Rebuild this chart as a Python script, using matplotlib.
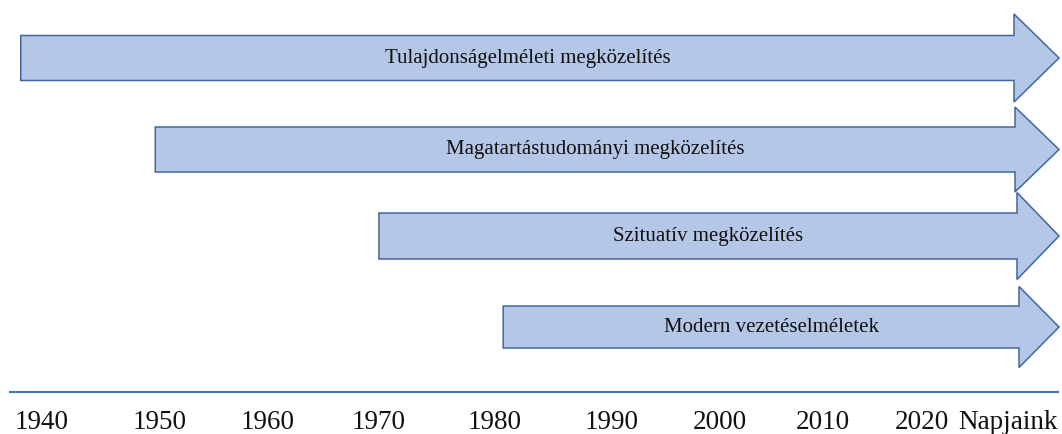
import numpy as np
import matplotlib
matplotlib.use('Agg')
import matplotlib.pyplot as plt
from matplotlib.patches import Polygon

# data
labels = ['Tulajdonságelméleti megközelítés',
          'Magatartástudományi megközelítés',
          'Szituatív megközelítés',
          'Modern vezetéselméletek']
start_years = [1938.2, 1949.6, 1970.0, 1980.7]
tick_years = [1940, 1950, 1960, 1970, 1980, 1990, 2000, 2010, 2020, 2030]
tick_labels = ['1940', '1950', '1960', '1970', '1980', '1990', '2000', '2010', '2020', 'Napjaink']

# layout: the timeline is hand spaced, so years map to pixels piecewise
knot_years = [1930] + tick_years + [2040]
knot_px = [-76, 42, 160, 268, 379, 495, 612, 720, 823, 922, 1008, 1100]


def fwd(x):
    return np.interp(x, knot_years, knot_px)


def inv(p):
    return np.interp(p, knot_px, knot_years)


row_y = [58, 149.5, 236, 327]
body_half = [22.5, 22.5, 23, 21]
head_half = [44, 42.5, 43.5, 40.5]
tip_px = 1059
base_px = [1014, 1015, 1017, 1019]

fill = '#B4C7E7'
edge = '#41679F'

plt.rcParams['font.family'] = ['Liberation Serif', 'DejaVu Serif']

fig = plt.figure(figsize=(10.62, 4.34), dpi=100)
ax = fig.add_axes([0, 42 / 434, 1, 392 / 434])
ax.set_xscale('function', functions=(fwd, inv))
ax.set_xlim(inv(0), inv(1062))
ax.set_ylim(392, 0)

tip = inv(tip_px)
for i, lab in enumerate(labels):
    c = row_y[i]
    bh = body_half[i]
    hh = head_half[i]
    x0 = start_years[i]
    xb = inv(base_px[i])
    pts = [(x0, c - bh), (xb, c - bh), (xb, c - hh), (tip, c),
           (xb, c + hh), (xb, c + bh), (x0, c + bh)]
    ax.add_patch(Polygon(pts, closed=True, facecolor=fill, edgecolor=edge, lw=1.1))
    tx = inv((fwd(x0) + base_px[i]) / 2 + 10)
    ax.text(tx, c, lab, ha='center', va='center', fontsize=15, color='#111111')

for s in ['top', 'left', 'right']:
    ax.spines[s].set_visible(False)
ax.spines['bottom'].set_color('#4472C4')
ax.spines['bottom'].set_linewidth(1.5)
ax.spines['bottom'].set_bounds(inv(10), inv(1058))
ax.set_yticks([])
ax.set_xticks(tick_years)
ax.set_xticklabels(tick_labels, fontsize=19.5, color='#111111')
ax.xaxis.set_minor_locator(matplotlib.ticker.NullLocator())
ax.tick_params(axis='x', length=0, pad=13)
ax.patch.set_alpha(0)

fig.savefig('out.png', dpi=100)
